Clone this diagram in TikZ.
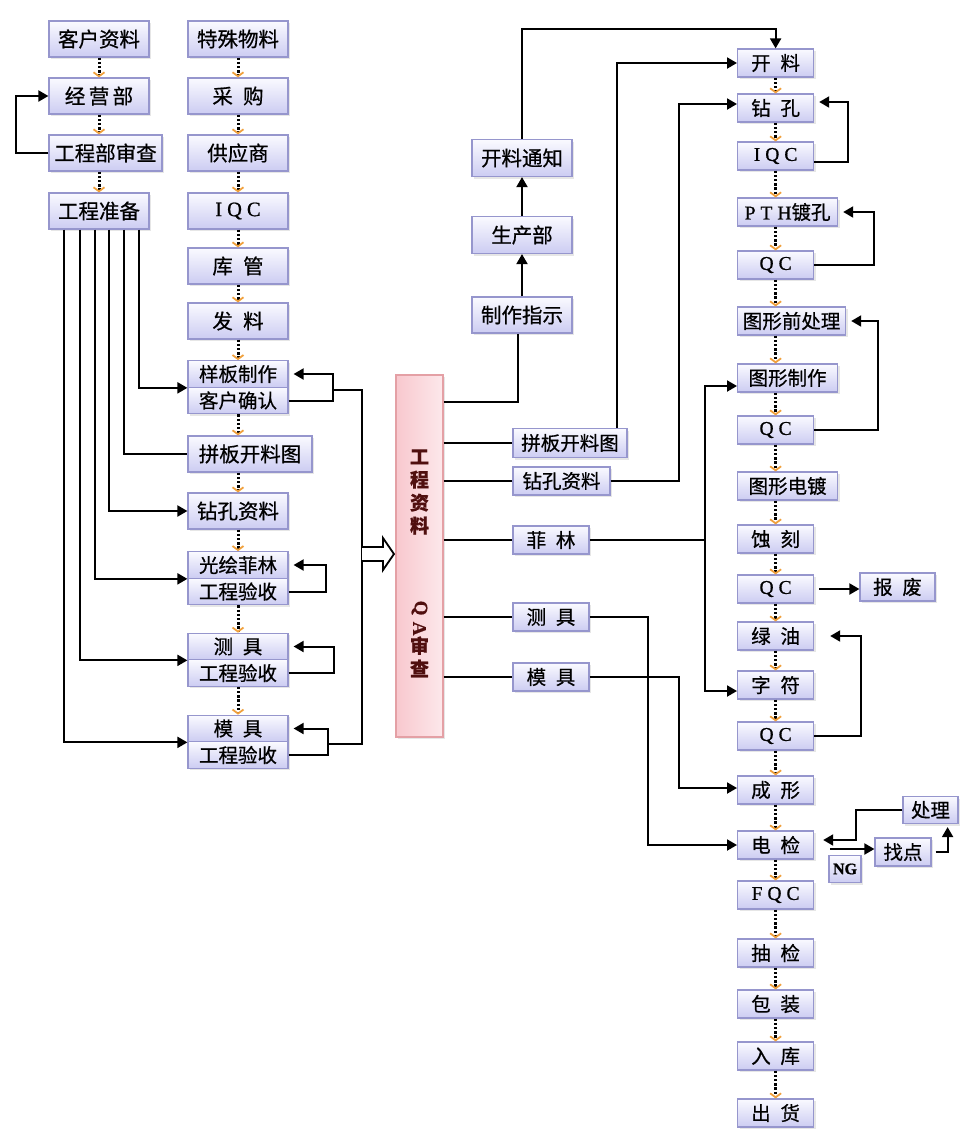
\documentclass[tikz,border=0pt]{standalone}
\usepackage{fontspec}
\usepackage{graphicx}
\setmainfont{Noto Sans CJK SC}[FakeBold=0.6]
\newfontfamily\latin{Liberation Serif}[FakeBold=0.8]
\usetikzlibrary{positioning, arrows.meta, shadows}

\definecolor{boxline}{RGB}{150,150,205}
\definecolor{boxtop}{RGB}{250,250,255}
\definecolor{boxbot}{RGB}{204,204,242}
\definecolor{pinkline}{RGB}{228,160,165}
\definecolor{pinkfill}{RGB}{248,200,206}
\definecolor{pinklight}{RGB}{253,232,235}
\definecolor{qacolor}{RGB}{80,15,15}
\definecolor{chevron}{RGB}{240,160,60}
\newcommand{\kg}{\hspace{0.5em}}
\newcommand{\lgap}{\hspace{5pt}}

\begin{document}
\begin{tikzpicture}[x=1pt, y=-1pt,
    block/.style={draw=boxline, line width=1.2pt, top color=boxtop, bottom color=boxbot,
                  minimum width=76pt, minimum height=28pt, inner sep=0pt,
                  font=\fontsize{19.5}{21}\selectfont,
                  drop shadow={shadow xshift=2pt, shadow yshift=-2pt, opacity=0.2}},
    big/.style={block, minimum width=100pt, minimum height=36pt, font=\fontsize{20.5}{22}\selectfont},
    half/.style={block, minimum width=100pt, minimum height=26.5pt},
    rblock/.style={block, anchor=west},
    qablock/.style={draw=pinkline, line width=1.2pt, left color=pinkfill, right color=pinklight,
                    minimum width=47pt, minimum height=362pt,
                    drop shadow={shadow xshift=2pt, shadow yshift=-2pt, opacity=0.2}},
    vtext/.style={text=qacolor, align=center, inner sep=0pt,
                  font=\fontsize{19}{23}\selectfont\bfseries},
    arrow/.style={line width=2pt, -{Triangle[length=10pt,width=11pt]}},
    back/.style={arrow, shorten >=5pt},
    link/.style={line width=2pt},
    dotarrow/.style={line width=3pt, dash pattern=on 2.4pt off 1.8pt,
                     -{Straight Barb[length=4pt, width=11pt, line width=1.8pt, color=chevron]}}
]
    \useasboundingbox (0,0) rectangle (980,1141);

    \node [big] (kehu) at (99,39) {客户资料};
    \node [big] (jingying) at (99,96) {经\,营\,部};
    \node [big, minimum width=113pt] (gcsc) at (105.5,153) {工程部审查};
    \node [big] (gczb) at (99,211) {工程准备};

    \node [big] (tswl) at (238,39) {特殊物料};
    \node [big] (caigou) at (238,96) {采\kg 购};
    \node [big] (gys) at (238,153) {供应商};
    \node [big] (iqcA) at (238,211) {\latin I\lgap Q\lgap C};
    \node [big] (kuguan) at (238,266) {库\kg 管};
    \node [big] (faliao) at (238,321) {发\kg 料};
    \node [half] (yangban) at (238,374) {样板制作};
    \node [half] (queren) at (238,400.5) {客户确认};
    \node [big, minimum width=124pt] (pinban) at (250,454) {拼板开料图};
    \node [big] (zkzl) at (238,511) {钻孔资料};
    \node [half] (feilin) at (238,565) {光绘菲林};
    \node [half] (ysA) at (238,591.5) {工程验收};
    \node [half] (ceju) at (238,646.5) {测\kg 具};
    \node [half] (ysB) at (238,673) {工程验收};
    \node [half] (moju) at (238,728.5) {模\kg 具};
    \node [half] (ysC) at (238,755) {工程验收};

    \node [qablock] (zlk) at (419.5,556) {};
    \node [vtext] (zlkA) at (419.5,492) {工\\程\\资\\料};
    \node [vtext] (zlkB) at (419.5,639) {\rotatebox{-90}{\latin Q}\\[-2pt]\rotatebox{-90}{\latin A}\\审\\查};

    \node [big, minimum height=37pt] (klt) at (522,158) {开料通知};
    \node [big, minimum height=37pt] (scb) at (522,235) {生产部};
    \node [big] (zzzs) at (522,315) {制作指示};

    \node [block, minimum width=114pt, minimum height=29pt] (pinbanR) at (570,443) {拼板开料图};
    \node [block, minimum width=97pt] (zkzlR) at (561.5,481) {钻孔资料};
    \node [block] (feilinR) at (551,540) {菲\kg 林};
    \node [block] (cejuR) at (551,617) {测\kg 具};
    \node [block] (mojuR) at (551,677) {模\kg 具};

    \node [rblock] (kl) at (737,63) {开\kg 料};
    \node [rblock] (zk) at (737,108) {钻\kg 孔};
    \node [rblock] (iqcB) at (737,156) {\latin I\lgap Q\lgap C};
    \node [rblock, minimum width=100pt] (pth) at (737,212) {{\latin P\lgap T\lgap H}镀孔};
    \node [rblock] (qcA) at (737,265) {\latin Q\lgap C};
    \node [rblock, minimum width=108pt] (txq) at (737,321) {图形前处理};
    \node [rblock, minimum width=100pt] (txzz) at (737,378) {图形制作};
    \node [rblock] (qcB) at (737,430) {\latin Q\lgap C};
    \node [rblock, minimum width=100pt] (txdd) at (737,486) {图形电镀};
    \node [rblock] (sk) at (737,539) {蚀\kg 刻};
    \node [rblock] (qcC) at (737,589) {\latin Q\lgap C};
    \node [rblock] (ly) at (737,636) {绿\kg 油};
    \node [rblock] (zf) at (737,685) {字\kg 符};
    \node [rblock] (qcD) at (737,736) {\latin Q\lgap C};
    \node [rblock] (cx) at (737,790) {成\kg 形};
    \node [rblock] (dj) at (737,845) {电\kg 检};
    \node [rblock] (fqc) at (737,895) {\latin F\lgap Q\lgap C};
    \node [rblock] (cj) at (737,953) {抽\kg 检};
    \node [rblock] (bz) at (737,1004) {包\kg 装};
    \node [rblock] (rk) at (737,1056) {入\kg 库};
    \node [rblock] (ch) at (737,1113) {出\kg 货};

    \node [block, minimum width=75pt] (bf) at (897.5,587) {报\kg 废};
    \node [block, minimum width=32pt, minimum height=27pt] (ng) at (845,869) {\latin\bfseries\fontsize{16}{18}\selectfont NG};
    \node [block, minimum width=56pt] (zd) at (903,852) {找点};
    \node [block, minimum width=55pt, minimum height=27pt] (cl) at (930.5,810) {处理};

    \foreach \a/\b in {kehu/jingying, jingying/gcsc, gcsc/gczb}
        \draw [dotarrow] (\a.south -| kehu) -- (\b.north -| kehu);
    \foreach \a/\b in {tswl/caigou, caigou/gys, gys/iqcA, iqcA/kuguan, kuguan/faliao,
                       faliao/yangban, queren/pinban, pinban/zkzl, zkzl/feilin, ysA/ceju, ysB/moju}
        \draw [dotarrow] (\a.south -| tswl) -- (\b.north -| tswl);
    \foreach \a/\b in {kl/zk, zk/iqcB, iqcB/pth, pth/qcA, qcA/txq, txq/txzz, txzz/qcB, qcB/txdd,
                       txdd/sk, sk/qcC, qcC/ly, ly/zf, zf/qcD, qcD/cx, cx/dj, dj/fqc, fqc/cj,
                       cj/bz, bz/rk, rk/ch}
        \draw [dotarrow] (\a.south -| kl) -- (\b.north -| kl);

    \draw [arrow] (gcsc.west) -- ++(-32,0) |- (jingying.west);
    \draw [arrow] ([xshift=91pt]gczb.south west) |- (yangban.south west);
    \draw [link] ([xshift=76pt]gczb.south west) |- (pinban.west);
    \draw [arrow] ([xshift=61pt]gczb.south west) |- (zkzl.west);
    \draw [arrow] ([xshift=47pt]gczb.south west) |- (feilin.south west);
    \draw [arrow] ([xshift=32pt]gczb.south west) |- (ceju.south west);
    \draw [arrow] ([xshift=16pt]gczb.south west) |- (moju.south west);

    \draw [back] (queren.east) -- ++(44,0) |- (yangban.east);
    \draw [back] (ysA.east) -- ++(37,0) |- (feilin.east);
    \draw [back] (ysB.east) -- ++(45,0) |- (ceju.east);
    \draw [back] (ysC.east) -- ++(39,0) |- (moju.east);
    \coordinate (busT) at (362,390);
    \coordinate (busB) at (362,744);
    \draw [link] (332,390) -- (busT) -- (busB) -- (327,744);
    \draw [line width=1.8pt, fill=white] (362,547) -- (383,547) -- (383,538) -- (394,554)
        -- (383,570) -- (383,561) -- (362,561);

    \draw [link] (zlk.east |- 0,402) -| ([xshift=-4pt]zzzs.south);
    \foreach \n in {pinbanR, zkzlR, feilinR, cejuR, mojuR}
        \draw [link] (zlk.east |- \n) -- (\n.west);
    \draw [arrow] (zzzs.north) -- (scb.south);
    \draw [arrow] (scb.north) -- (klt.south);
    \draw [arrow] (klt.north) -- ++(0,-110) -| (kl.north);
    \draw [arrow] ([xshift=-11pt]pinbanR.north east) |- (kl.west);
    \draw [arrow] (zkzlR.east) -- ++(68,0) |- ([yshift=4pt]zk.west);
    \draw [link] (feilinR.east) -- ++(115,0) coordinate (fj);
    \draw [arrow] (fj) |- ([yshift=-8pt]txzz.west);
    \draw [arrow] (fj) |- ([yshift=-6pt]zf.west);
    \draw [arrow] (cejuR.east) -- ++(58,0) |- (dj.west);
    \draw [arrow] (mojuR.east) -- ++(89,0) |- ([yshift=2pt]cx.west);

    \draw [back] ([yshift=-6pt]iqcB.east) -- ++(34,0) |- ([yshift=6pt]zk.east);
    \draw [back] (qcA.east) -- ++(60,0) |- (pth.east);
    \draw [back] (qcB.east) -- ++(64,0) |- (txq.east);
    \draw [arrow, shorten <=5pt] (qcC.east) -- (qcC.east -| bf.west);
    \draw [arrow, shorten >=16pt] (qcD.east) -- ++(47,0) |- (ly.east);
    \draw [arrow, shorten >=9pt] (cl.west) -- ++(-46,0) |- ([yshift=5pt]dj.east);
    \draw [arrow, shorten <=16pt] ([yshift=-4pt]dj.east) -- ([yshift=3pt]zd.west);
    \draw [arrow, shorten <=4pt, shorten >=3pt] (zd.east) -| ([xshift=-11pt]cl.south east);
\end{tikzpicture}
\end{document}
